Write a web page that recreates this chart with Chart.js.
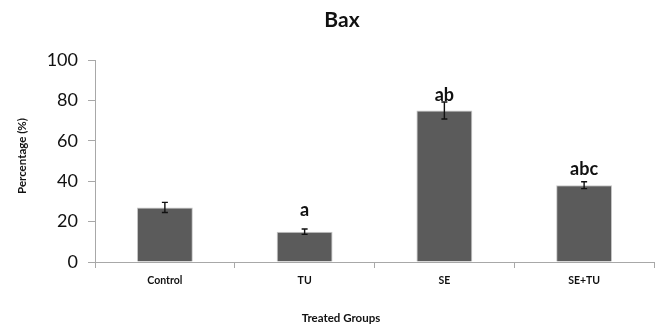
<!DOCTYPE html>
<html>
<head>
<meta charset="utf-8">
<script src="https://cdn.jsdelivr.net/npm/chart.js@4/dist/chart.umd.min.js"></script>
<style>
  html, body { margin: 0; padding: 0; background: #fff; }
  #wrap { width: 655px; height: 329px; position: relative; }
</style>
</head>
<body>
<div id="wrap"><canvas id="c" width="655" height="329"></canvas></div>
<script>
// Bax expression per treated group (mean ± SD) with significance letters
const groups = ['Control', 'TU', 'SE', 'SE+TU'];
const baxMean = [27, 15, 75, 38];
const baxSD = [2.5, 1.3, 4.2, 1.7];
const sigLetters = ['', 'a', 'ab', 'abc'];
const yTicks = [0, 20, 40, 60, 80, 100];

const FONT = 'Lato, "Open Sans", "DejaVu Sans", sans-serif';

// Draws error bars, significance letters, chart title and axis titles
const annotate = {
  id: 'annotate',
  afterDatasetsDraw(chart, args, opts) {
    const ctx = chart.ctx;
    const x = chart.scales.x, y = chart.scales.y;
    ctx.save();
    // error bars
    ctx.strokeStyle = '#111';
    ctx.lineWidth = 1.4;
    baxMean.forEach((m, i) => {
      const cx = x.getPixelForValue(i);
      const top = y.getPixelForValue(m + baxSD[i]);
      const bot = y.getPixelForValue(m - baxSD[i]);
      ctx.beginPath();
      ctx.moveTo(cx, top); ctx.lineTo(cx, bot);
      ctx.moveTo(cx - 3, top); ctx.lineTo(cx + 3, top);
      ctx.moveTo(cx - 3, bot); ctx.lineTo(cx + 3, bot);
      ctx.stroke();
    });
    // significance letters above bars
    ctx.fillStyle = '#111';
    ctx.font = 'bold 18px ' + FONT;
    ctx.textAlign = 'center';
    ctx.textBaseline = 'alphabetic';
    sigLetters.forEach((t, i) => {
      if (!t) return;
      const cx = x.getPixelForValue(i);
      const top = y.getPixelForValue(baxMean[i]);
      ctx.fillText(t, cx, top - opts.lift[i]);
    });
    // chart title
    ctx.font = 'bold 21px ' + FONT;
    ctx.fillText('Bax', 342, 27);
    // x axis title
    ctx.font = 'bold 11.5px ' + FONT;
    ctx.textBaseline = 'middle';
    ctx.fillText('Treated Groups', 341, 318);
    // y axis title
    ctx.translate(22, 156);
    ctx.rotate(-Math.PI / 2);
    ctx.fillText('Percentage (%)', 0, 0);
    ctx.restore();
  }
};

new Chart(document.getElementById('c'), {
  type: 'bar',
  data: {
    labels: groups,
    datasets: [{
      data: baxMean,
      backgroundColor: '#5b5b5b',
      borderColor: '#c8c8c8',
      borderWidth: 1,
      barPercentage: 0.4,
      categoryPercentage: 1.0
    }]
  },
  options: {
    responsive: false,
    animation: false,
    devicePixelRatio: 1,
    layout: { padding: { left: 0, right: 1, top: 60, bottom: 0 } },
    plugins: {
      legend: { display: false },
      tooltip: { enabled: false },
      title: { display: false },
      annotate: { lift: [0, 16, 10, 10] }
    },
    scales: {
      x: {
        offset: true,
        grid: {
          offset: true,
          drawOnChartArea: false,
          drawTicks: true,
          tickLength: 6,
          color: '#a8a8a8'
        },
        border: { color: '#a8a8a8', width: 1 },
        ticks: {
          color: '#111',
          font: { family: FONT, size: 10.5, weight: 'bold' },
          padding: 6,
          maxRotation: 0
        },
        afterFit(s) { s.height = 67; }
      },
      y: {
        min: 0,
        max: 100,
        afterBuildTicks(s) { s.ticks = yTicks.map(v => ({ value: v })); },
        grid: {
          drawOnChartArea: false,
          drawTicks: true,
          tickLength: 7,
          color: '#a8a8a8'
        },
        border: { color: '#a8a8a8', width: 1 },
        ticks: {
          color: '#111',
          font: { family: FONT, size: 18 },
          padding: 10
        },
        afterFit(s) { s.width = 95; }
      }
    }
  },
  plugins: [annotate]
});
</script>
</body>
</html>
